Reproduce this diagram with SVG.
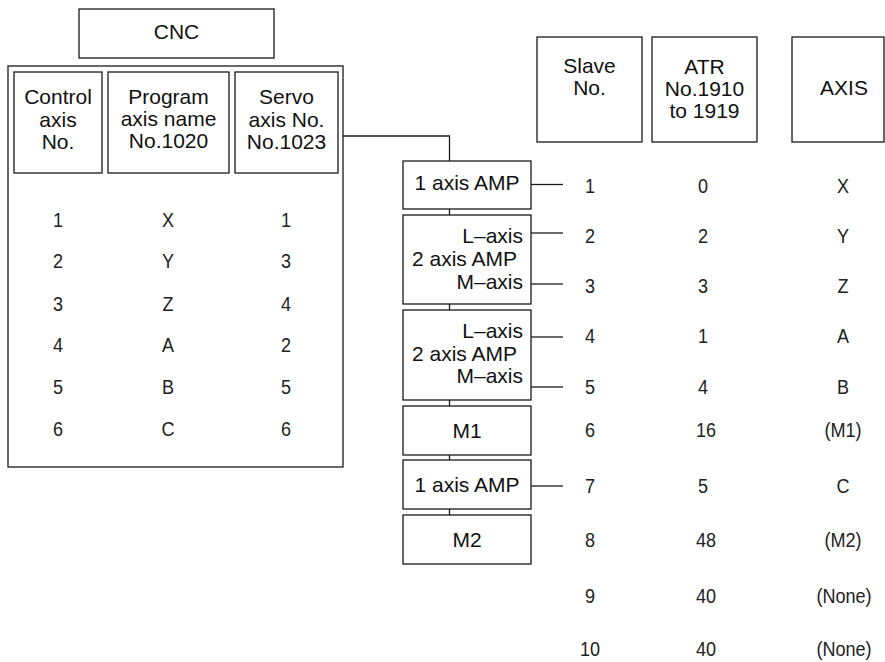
<svg xmlns="http://www.w3.org/2000/svg" width="885" height="662" viewBox="0 0 885 662">
<style>
rect.box{fill:#fff;stroke:#1a1a1a;stroke-width:1.3}
.lbl{font-family:"Liberation Sans",Arial,sans-serif;font-size:21px;fill:#111}
.mid{text-anchor:middle}
.end{text-anchor:end}
.num{font-family:"Liberation Sans",Arial,sans-serif;font-size:21px;fill:#222;text-anchor:middle}
#connectors path,#connectors line{stroke:#1a1a1a;stroke-width:1.3;fill:none}
</style>
<rect width="885" height="662" fill="#fff"/>

<g id="connectors">
<path d="M343,136 H449.5 V161"/>
<line x1="449.5" y1="209" x2="449.5" y2="215"/>
<line x1="449.5" y1="304" x2="449.5" y2="310"/>
<line x1="449.5" y1="400" x2="449.5" y2="406"/>
<line x1="449.5" y1="455" x2="449.5" y2="460"/>
<line x1="449.5" y1="509" x2="449.5" y2="515"/>
<line x1="531" y1="184.5" x2="563" y2="184.5"/>
<line x1="531" y1="233" x2="563" y2="233"/>
<line x1="531" y1="284" x2="563" y2="284"/>
<line x1="531" y1="337" x2="563" y2="337"/>
<line x1="531" y1="387" x2="563" y2="387"/>
<line x1="531" y1="486" x2="563" y2="486"/>
</g>

<g id="cnc">
<rect class="box" x="79" y="9" width="195" height="49"/>
<text class="lbl mid" x="176.5" y="39">CNC</text>
</g>

<g id="cnc-table">
<rect class="box" x="8" y="66" width="335" height="401"/>
</g>

<g id="hdr-control">
<rect class="box" x="14" y="72" width="88" height="101"/>
<text class="lbl mid" x="58" y="104">Control</text>
<text class="lbl mid" x="58" y="126.5">axis</text>
<text class="lbl mid" x="58" y="149">No.</text>
</g>
<g id="hdr-program">
<rect class="box" x="108" y="72" width="121" height="101"/>
<text class="lbl mid" x="168.5" y="103.5">Program</text>
<text class="lbl mid" x="168.5" y="125.5">axis name</text>
<text class="lbl mid" x="168.5" y="147.5">No.1020</text>
</g>
<g id="hdr-servo">
<rect class="box" x="235" y="72" width="103" height="101"/>
<text class="lbl mid" x="286.5" y="103.5">Servo</text>
<text class="lbl mid" x="286.5" y="126.5">axis No.</text>
<text class="lbl mid" x="286.5" y="149">No.1023</text>
</g>

<g id="cnc-values" transform="scale(0.86,1)">
<text class="num" x="67.4" y="227">1</text><text class="num" x="195.3" y="227">X</text><text class="num" x="332.6" y="227">1</text>
<text class="num" x="67.4" y="268.5">2</text><text class="num" x="195.3" y="268.5">Y</text><text class="num" x="332.6" y="268.5">3</text>
<text class="num" x="67.4" y="311">3</text><text class="num" x="195.3" y="311">Z</text><text class="num" x="332.6" y="311">4</text>
<text class="num" x="67.4" y="352.5">4</text><text class="num" x="195.3" y="352.5">A</text><text class="num" x="332.6" y="352.5">2</text>
<text class="num" x="67.4" y="394">5</text><text class="num" x="195.3" y="394">B</text><text class="num" x="332.6" y="394">5</text>
<text class="num" x="67.4" y="436">6</text><text class="num" x="195.3" y="436">C</text><text class="num" x="332.6" y="436">6</text>
</g>

<g id="amp1">
<rect class="box" x="403" y="161" width="128" height="48"/>
<text class="lbl mid" x="467" y="189.5">1 axis AMP</text>
</g>
<g id="amp2">
<rect class="box" x="403" y="215" width="128" height="89"/>
<text class="lbl end" x="523" y="243">L–axis</text>
<text class="lbl" x="412" y="266">2 axis AMP</text>
<text class="lbl end" x="523" y="289">M–axis</text>
</g>
<g id="amp3">
<rect class="box" x="403" y="310" width="128" height="90"/>
<text class="lbl end" x="523" y="338">L–axis</text>
<text class="lbl" x="412" y="360.5">2 axis AMP</text>
<text class="lbl end" x="523" y="383">M–axis</text>
</g>
<g id="m1">
<rect class="box" x="403" y="406" width="128" height="49"/>
<text class="lbl mid" x="467" y="437.5">M1</text>
</g>
<g id="amp4">
<rect class="box" x="403" y="460" width="128" height="49"/>
<text class="lbl mid" x="467" y="491.5">1 axis AMP</text>
</g>
<g id="m2">
<rect class="box" x="403" y="515" width="128" height="49"/>
<text class="lbl mid" x="467" y="546.5">M2</text>
</g>

<g id="hdr-slave">
<rect class="box" x="537" y="37" width="105" height="105"/>
<text class="lbl mid" x="589.5" y="73">Slave</text>
<text class="lbl mid" x="589.5" y="95">No.</text>
</g>
<g id="hdr-atr">
<rect class="box" x="652" y="37" width="105" height="105"/>
<text class="lbl mid" x="704.5" y="73.5">ATR</text>
<text class="lbl mid" x="704.5" y="96">No.1910</text>
<text class="lbl mid" x="704.5" y="117.5">to 1919</text>
</g>
<g id="hdr-axis">
<rect class="box" x="792" y="37" width="92" height="105"/>
<text class="lbl mid" x="844" y="94.5">AXIS</text>
</g>

<g id="slave-values" transform="scale(0.86,1)">
<text class="num" x="686" y="193">1</text><text class="num" x="817.4" y="193">0</text><text class="num" x="980.2" y="193">X</text>
<text class="num" x="686" y="243.5">2</text><text class="num" x="817.4" y="243.5">2</text><text class="num" x="980.2" y="243.5">Y</text>
<text class="num" x="686" y="293.5">3</text><text class="num" x="817.4" y="293.5">3</text><text class="num" x="980.2" y="293.5">Z</text>
<text class="num" x="686" y="343.5">4</text><text class="num" x="817.4" y="343.5">1</text><text class="num" x="980.2" y="343.5">A</text>
<text class="num" x="686" y="394">5</text><text class="num" x="817.4" y="394">4</text><text class="num" x="980.2" y="394">B</text>
<text class="num" x="686" y="437">6</text><text class="num" x="820.9" y="437">16</text><text class="num" x="980.2" y="437">(M1)</text>
<text class="num" x="686" y="493">7</text><text class="num" x="817.4" y="493">5</text><text class="num" x="980.2" y="493">C</text>
<text class="num" x="686" y="547">8</text><text class="num" x="820.9" y="547">48</text><text class="num" x="980.2" y="547">(M2)</text>
<text class="num" x="686" y="603">9</text><text class="num" x="820.9" y="603">40</text><text class="num" x="981.4" y="603">(None)</text>
<text class="num" x="686" y="656">10</text><text class="num" x="820.9" y="656">40</text><text class="num" x="981.4" y="656">(None)</text>
</g>
</svg>
